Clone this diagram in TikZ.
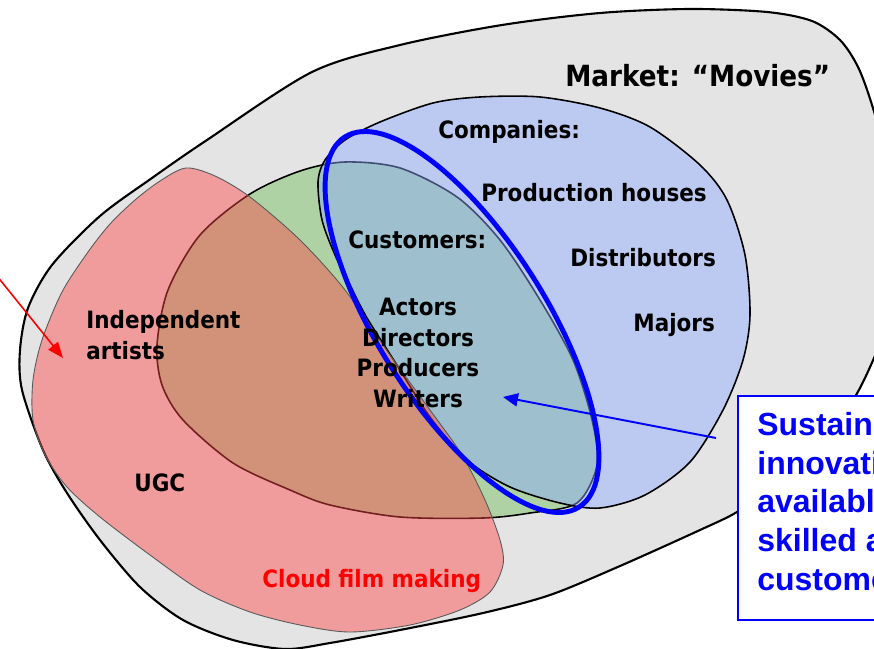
\documentclass[tikz,border=0pt]{standalone}
\usepackage{fontspec}
\setmainfont[FakeStretch=0.9]{DejaVu Sans}
\newfontfamily\arialfont{Liberation Sans}
\usepackage{tikz}
\usetikzlibrary{arrows.meta}

\definecolor{marketgray}{RGB}{228,228,228}
\definecolor{custgreen}{RGB}{95,183,70}
\definecolor{compblue}{RGB}{140,170,255}
\definecolor{artistred}{RGB}{255,70,70}
\definecolor{pureblue}{RGB}{0,0,255}

\tikzset{
    blob/.style={draw=black, line width=0.9pt},
    lbl/.style={font=\fontsize{13.6}{17.4}\selectfont\bfseries, inner sep=0pt, anchor=base west},
    boxtext/.style={font=\arialfont\fontsize{18.2}{22}\selectfont\bfseries, text=pureblue, inner sep=0pt, align=left},
}

\begin{document}
\begin{tikzpicture}[x=0.02cm, y=-0.02cm]
    \useasboundingbox (0,0) rectangle (874,648);
    % Market
    \draw[fill=marketgray, line width=1.2pt] plot[smooth cycle] coordinates {
        (22,390) (20,350) (28,308) (52,265) (100,216) (152,178) (207,140) (312,72)
        (400,45) (502,25) (600,13) (690,9) (767,12) (812,21) (840,40) (858,67) (872,105)
        (890,170) (900,240) (892,310) (874,358) (853,400) (820,440) (775,485) (737,512)
        (700,530) (620,566) (550,595) (483,613) (400,630) (330,643) (285,649) (233,640)
        (183,620) (140,587) (100,540) (67,493) (43,450)};
    % Customers
    \draw[blob, fill=custgreen, fill opacity=0.4] plot[smooth cycle] coordinates {
        (157,345) (168,290) (200,235) (250,194) (300,171) (345,162) (400,168) (457,197)
        (500,240) (540,300) (573,360) (592,420) (597,465) (577,503) (530,513) (483,518)
        (400,517) (330,505) (290,490) (233,463) (183,420) (162,385)};
    % Companies
    \draw[blob, fill=compblue, fill opacity=0.45] plot[smooth cycle] coordinates {
        (318,182) (322,220) (335,255) (350,285) (367,318) (395,362) (430,417) (467,460)
        (510,487) (560,503) (600,508) (645,495) (690,462) (723,410) (743,360) (750,315)
        (745,255) (727,200) (700,165) (650,127) (600,108) (540,97) (480,97) (433,103)
        (380,122) (345,140) (325,160)};
    % Independent artists
    \draw[draw=gray!70!black, line width=0.5pt, fill=artistred, fill opacity=0.45] plot[smooth cycle] coordinates {
        (186,168) (215,176) (250,197) (300,240) (345,290) (390,355) (430,410) (462,455)
        (485,500) (500,540) (503,565) (490,592) (460,610) (410,625) (350,632) (300,625)
        (250,612) (200,590) (150,555) (100,517) (67,487) (45,455) (33,420) (33,380)
        (42,340) (62,292) (88,252) (110,224) (135,200) (160,181)};
    % sustaining innovation
    \draw[pureblue, line width=2.8pt, rotate around={-57.7:(462,322)}] (462,322) ellipse [x radius=219, y radius=84];

    \node[lbl, font=\fontsize{16.6}{19}\selectfont\bfseries] (market) at (565,87) {Market: “Movies”};
    \node[lbl] (companies) at (438,139) {Companies:};
    \node[lbl] (production) at (481,202) {Production houses};
    \node[lbl] (distributors) at (570,266) {Distributors};
    \node[lbl] (majors) at (633,331) {Majors};
    \node[lbl] (customers) at (348,249) {Customers:};
    \node[lbl, anchor=north, align=center] (roles) at (418,298) {Actors\\Directors\\Producers\\Writers};
    \node[lbl, anchor=north west, align=left] (artists) at (86,310) {Independent\\artists};
    \node[lbl] (ugc) at (134,491) {UGC};
    \node[lbl, text=red] (cloud) at (262,587) {Cloud film making};

    % call-out
    \draw[pureblue, line width=0.85pt, fill=white] (738,396) rectangle (900,620);
    \node[boxtext, anchor=north west] (sustain) at (757,412) {Sustain\\innovati\\availabl\\skilled a\\custome};

    \coordinate (bluetail) at (716,438);
    \coordinate (bluetip) at (503,397);
    \draw[pureblue, line width=1.1pt, -{Triangle[length=8.5pt,width=7.5pt]}] (bluetail) -- (bluetip);
    \coordinate (redtail) at (-3,276);
    \coordinate (redtip) at (63,358);
    \draw[red, line width=0.9pt, -{Triangle[length=9pt,width=7pt]}] (redtail) -- (redtip);
\end{tikzpicture}
\end{document}
